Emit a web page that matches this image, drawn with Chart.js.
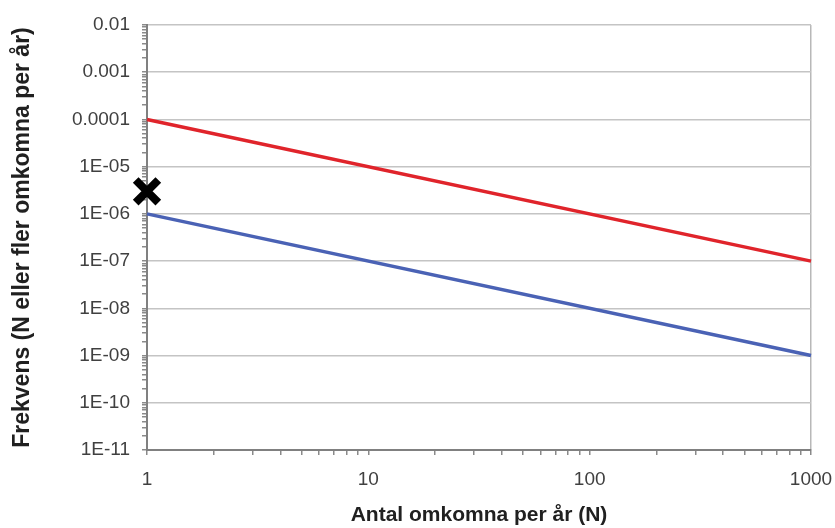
<!DOCTYPE html>
<html><head><meta charset="utf-8">
<script src="https://cdn.jsdelivr.net/npm/chart.js@4/dist/chart.umd.min.js"></script>
<style>html,body{margin:0;padding:0;background:#fff}#wrap{width:835px;height:528px}</style>
</head><body><div id="wrap"><canvas id="c" width="835" height="528"></canvas></div>
<script>
// ---- data ----
const nValues = [1, 1000];
const upperLimit = [1e-4, 1e-7];
const lowerLimit = [1e-6, 1e-9];
const markerN = [1];
const markerFreq = [3e-6];
const xMajorTicks = [1, 10, 100, 1000];
const xTickLabels = ['1', '10', '100', '1000'];
const yMajorTicks = [1e-11, 1e-10, 1e-9, 1e-8, 1e-7, 1e-6, 1e-5, 1e-4, 1e-3, 1e-2];
const yTickLabels = ['1E-11', '1E-10', '1E-09', '1E-08', '1E-07', '1E-06', '1E-05', '0.0001', '0.001', '0.01'];
const minorMultipliers = [2, 3, 4, 5, 6, 7, 8, 9];

function withMinor(majors) {
  const out = [];
  majors.forEach((m, i) => {
    out.push({value: m, major: true});
    if (i < majors.length - 1) minorMultipliers.forEach(k => out.push({value: +(m * k).toPrecision(6), major: false}));
  });
  return out;
}
const xLabelMap = new Map(xMajorTicks.map((v, i) => [v, xTickLabels[i]]));
const yLabelMap = new Map(yMajorTicks.map((v, i) => [v, yTickLabels[i]]));

const pts = (xs, ys) => xs.map((x, i) => ({x, y: ys[i]}));
const tickFont = {family: 'Liberation Sans, Arial, sans-serif', size: 19};
const titleFont = {family: 'Liberation Sans, Arial, sans-serif', weight: 'bold', lineHeight: 1.2};

new Chart(document.getElementById('c'), {
  type: 'scatter',
  data: {
    datasets: [
      {data: pts(nValues, upperLimit), showLine: true, borderColor: '#e0242b', borderWidth: 3.5, pointRadius: 0, clip: false},
      {data: pts(nValues, lowerLimit), showLine: true, borderColor: '#4a62b5', borderWidth: 3.5, pointRadius: 0, clip: false},
      {data: pts(markerN, markerFreq), showLine: false, pointStyle: 'crossRot', pointRadius: 16, pointBorderWidth: 8, borderColor: '#000', backgroundColor: '#000', clip: false}
    ]
  },
  options: {
    responsive: false, animation: false, devicePixelRatio: 1,
    layout: {padding: {top: 25, right: 21, left: 0, bottom: 0}},
    plugins: {legend: {display: false}, tooltip: {enabled: false}},
    scales: {
      x: {
        type: 'logarithmic', min: 1, max: 1000,
        afterBuildTicks: s => { s.ticks = withMinor(xMajorTicks); },
        afterFit: s => { s.height = 78; s.paddingRight = 0; s.paddingLeft = 0; },
        ticks: {autoSkip: false, maxRotation: 0, padding: 13, color: '#404040', font: tickFont,
          callback: v => xLabelMap.has(v) ? xLabelMap.get(v) : ''},
        grid: {
          color: c => (c.tick && c.tick.value === 1000) ? '#b8b8b8' : 'rgba(0,0,0,0)',
          lineWidth: 1.5, tickLength: 5, tickColor: '#8a8a8a'
        },
        border: {display: true, color: '#808080', width: 2},
        title: {display: true, text: 'Antal omkomna per år (N)', color: '#202020',
          font: Object.assign({size: 21}, titleFont), padding: {top: 0, bottom: 0}}
      },
      y: {
        type: 'logarithmic', min: 1e-11, max: 1e-2,
        afterBuildTicks: s => { s.ticks = withMinor(yMajorTicks); },
        afterFit: s => { s.width = 147; s.paddingTop = 0; s.paddingBottom = 0; },
        ticks: {autoSkip: false, padding: 12, color: '#404040', font: tickFont,
          callback: v => yLabelMap.has(v) ? yLabelMap.get(v) : ''},
        grid: {
          color: c => (c.tick && yLabelMap.has(c.tick.value)) ? '#c4c4c4' : 'rgba(0,0,0,0)',
          lineWidth: 1.5, tickLength: 5, tickColor: '#8a8a8a'
        },
        border: {display: true, color: '#808080', width: 2},
        title: {display: true, text: 'Frekvens (N eller fler omkomna per år)', color: '#202020',
          font: Object.assign({size: 23}, titleFont), padding: {top: 9, bottom: 0}}
      }
    }
  }
});
</script></body></html>
